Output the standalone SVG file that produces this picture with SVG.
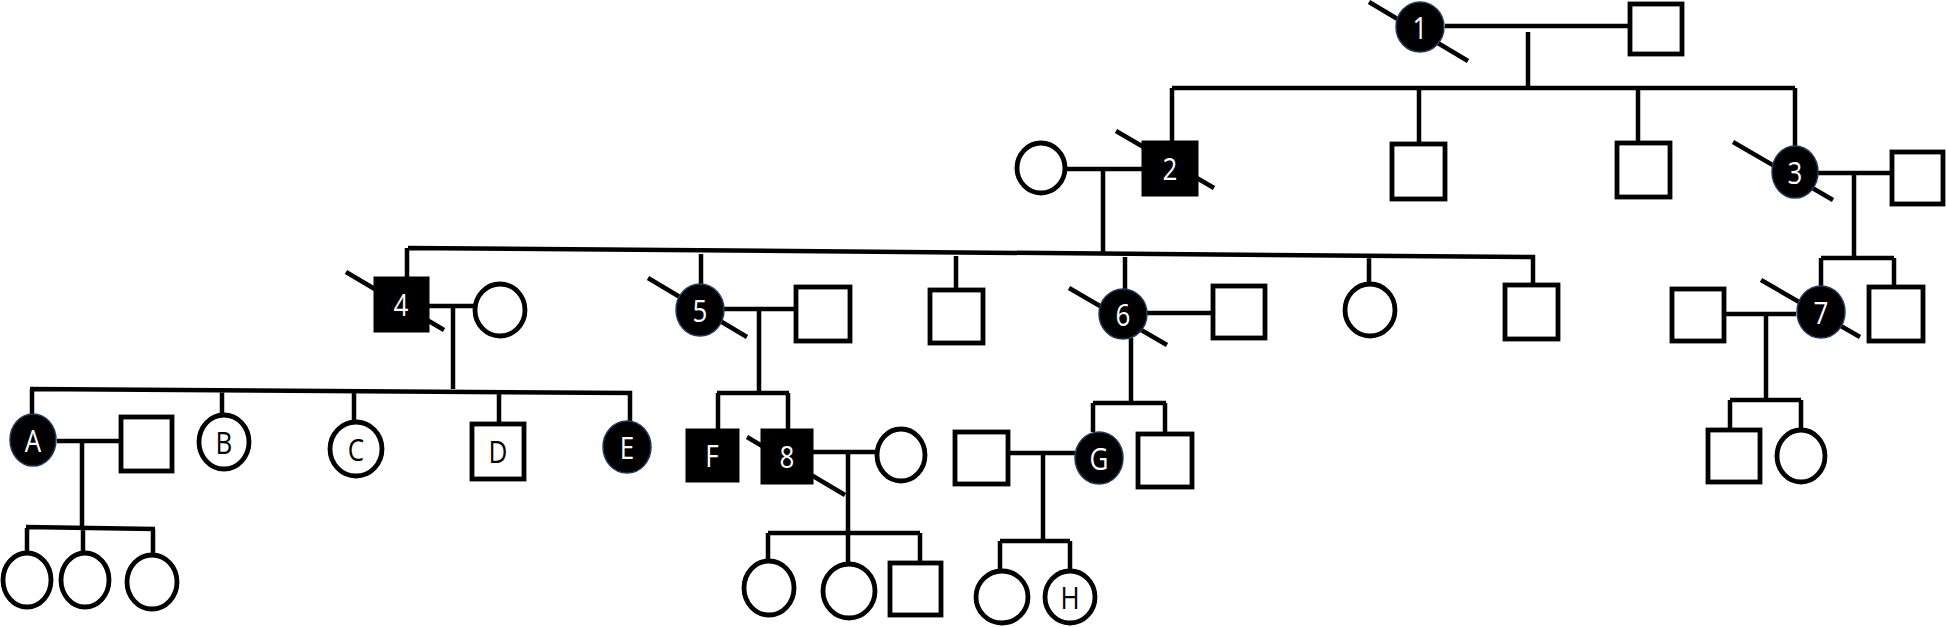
<svg xmlns="http://www.w3.org/2000/svg" width="1946" height="627" viewBox="0 0 1946 627">
<style>
.ln{stroke:#000;stroke-width:4.5;fill:none;stroke-linecap:butt}
.dg{stroke:#000;stroke-width:4.5}
.nd{fill:#fff;stroke:#000;stroke-width:4.8}
.af{fill:#000;stroke:#1f3b63;stroke-width:1.5}
.sq{fill:#000;stroke:#000;stroke-width:1}
.t{font-family:"Open Sans","Liberation Sans",sans-serif;font-size:26px;text-anchor:middle}
.w{fill:#fff}
.b{fill:#000}
</style>
<rect width="1946" height="627" fill="#fff"/>
<g id="connectors" class="ln">
<path d="M1445 26H1630M1528 32V88M1172 88H1795M1172 88V141M1419 88V144M1638 88V143M1795 88V146"/>
<path d="M1065 169H1142M1103 169V252M1817 173H1892M1854 173V258"/>
<path d="M408 248L1533 257V285M407 248V277M701 254V284M956 256V290M1125 257V290M1369 255V284"/>
<path d="M429 306H475M453 306V389M30 389L630 393V421M32 389V415M222 390V415M354 391V422M499 392V424"/>
<path d="M724 309H796M759 309V393M717 393H789M718 393V429M788 393V429"/>
<path d="M1147 313H1213M1131 338V403M1093 403H1166M1093 403V432M1165 403V434"/>
<path d="M1821 258H1894M1821 258V287M1894 258V287M1724 314H1796M1766 314V400M1730 400H1801M1730 400V430M1801 400V431"/>
<path d="M57 441H121M82 441V528M26 527L155 529M27 528V553M83 528V553M153 529V555"/>
<path d="M813 452H877M848 452V533M768 533H920M768 533V562M848 533V565M920 533V563"/>
<path d="M1008 453H1075M1043 453V541M1000 541H1070M1000 541V571M1070 541V570"/>
</g>
<g id="n1"><line class="dg" x1="1369" y1="2" x2="1468" y2="61"/><ellipse class="af" cx="1420" cy="27" rx="24" ry="25"/><text class="t w" transform="translate(1420 39) scale(1 1.2)">1</text></g>
<g id="n1sp"><rect class="nd" x="1630" y="4" width="52" height="50"/></g>
<g id="n2"><line class="dg" x1="1116" y1="131" x2="1214" y2="188"/><rect class="sq" x="1142" y="141" width="56" height="55"/><text class="t w" transform="translate(1170 180) scale(1 1.2)">2</text></g>
<g id="n2sp"><ellipse class="nd" cx="1041" cy="168" rx="24" ry="25"/></g>
<g id="b1"><rect class="nd" x="1392" y="144" width="53" height="55"/></g>
<g id="b2"><rect class="nd" x="1617" y="143" width="53" height="54"/></g>
<g id="n3"><line class="dg" x1="1733" y1="142" x2="1833" y2="200"/><ellipse class="af" cx="1795" cy="172" rx="23" ry="26"/><text class="t w" transform="translate(1795 184) scale(1 1.2)">3</text></g>
<g id="n3sp"><rect class="nd" x="1892" y="152" width="51" height="52"/></g>
<g id="n4"><line class="dg" x1="346" y1="272" x2="444" y2="330"/><rect class="sq" x="374" y="277" width="55" height="55"/><text class="t w" transform="translate(401 316) scale(1 1.2)">4</text></g>
<g id="n4sp"><ellipse class="nd" cx="500" cy="310" rx="25" ry="26"/></g>
<g id="n5"><line class="dg" x1="648" y1="278" x2="747" y2="337"/><ellipse class="af" cx="700" cy="310" rx="24" ry="26"/><text class="t w" transform="translate(700 322) scale(1 1.2)">5</text></g>
<g id="n5sp"><rect class="nd" x="796" y="287" width="54" height="54"/></g>
<g id="bro"><rect class="nd" x="930" y="290" width="53" height="53"/></g>
<g id="n6"><line class="dg" x1="1069" y1="288" x2="1167" y2="345"/><ellipse class="af" cx="1123" cy="314" rx="24" ry="25"/><text class="t w" transform="translate(1123 326) scale(1 1.2)">6</text></g>
<g id="n6sp"><rect class="nd" x="1213" y="286" width="52" height="52"/></g>
<g id="sis"><ellipse class="nd" cx="1370" cy="310" rx="25" ry="26"/></g>
<g id="bro2"><rect class="nd" x="1505" y="285" width="53" height="54"/></g>
<g id="n7"><line class="dg" x1="1761" y1="280" x2="1860" y2="337"/><ellipse class="af" cx="1821" cy="312" rx="24" ry="26"/><text class="t w" transform="translate(1821 324) scale(1 1.2)">7</text></g>
<g id="n7bro"><rect class="nd" x="1869" y="287" width="54" height="54"/></g>
<g id="n7sp"><rect class="nd" x="1672" y="289" width="52" height="52"/></g>
<g id="c7a"><rect class="nd" x="1708" y="430" width="52" height="52"/></g>
<g id="c7b"><ellipse class="nd" cx="1801" cy="456" rx="24" ry="26"/></g>
<g id="nA"><ellipse class="af" cx="33" cy="440" rx="23" ry="26"/><text class="t w" transform="translate(33 452) scale(1 1.2)">A</text></g>
<g id="nAsp"><rect class="nd" x="121" y="417" width="51" height="54"/></g>
<g id="cA1"><ellipse class="nd" cx="27" cy="580" rx="24" ry="27"/></g>
<g id="cA2"><ellipse class="nd" cx="85" cy="580" rx="24" ry="27"/></g>
<g id="cA3"><ellipse class="nd" cx="152" cy="582" rx="25" ry="27"/></g>
<g id="nB"><ellipse class="nd" cx="224" cy="442" rx="25" ry="27"/><text class="t b" transform="translate(224 454) scale(1 1.2)">B</text></g>
<g id="nC"><ellipse class="nd" cx="356" cy="449" rx="26" ry="27"/><text class="t b" transform="translate(356 461) scale(1 1.2)">C</text></g>
<g id="nD"><rect class="nd" x="472" y="424" width="52" height="55"/><text class="t b" transform="translate(498 463) scale(1 1.2)">D</text></g>
<g id="nE"><ellipse class="af" cx="627" cy="447" rx="24" ry="26"/><text class="t w" transform="translate(627 459) scale(1 1.2)">E</text></g>
<g id="nF"><rect class="sq" x="686" y="429" width="53" height="53"/><text class="t w" transform="translate(712 467) scale(1 1.2)">F</text></g>
<g id="n8"><line class="dg" x1="747" y1="437" x2="845" y2="495"/><rect class="sq" x="761" y="429" width="52" height="55"/><text class="t w" transform="translate(787 468) scale(1 1.2)">8</text></g>
<g id="n8sp"><ellipse class="nd" cx="901" cy="455" rx="24" ry="26"/></g>
<g id="c81"><ellipse class="nd" cx="769" cy="588" rx="25" ry="27"/></g>
<g id="c82"><ellipse class="nd" cx="849" cy="591" rx="26" ry="27"/></g>
<g id="c83"><rect class="nd" x="890" y="563" width="51" height="52"/></g>
<g id="nG"><ellipse class="af" cx="1099" cy="458" rx="24" ry="26"/><text class="t w" transform="translate(1099 470) scale(1 1.2)">G</text></g>
<g id="nGsp"><rect class="nd" x="955" y="432" width="53" height="52"/></g>
<g id="nGbro"><rect class="nd" x="1138" y="434" width="54" height="53"/></g>
<g id="cG1"><ellipse class="nd" cx="1002" cy="597" rx="26" ry="26"/></g>
<g id="nH"><ellipse class="nd" cx="1070" cy="597" rx="25" ry="26"/><text class="t b" transform="translate(1070 609) scale(1 1.2)">H</text></g>
</svg>
